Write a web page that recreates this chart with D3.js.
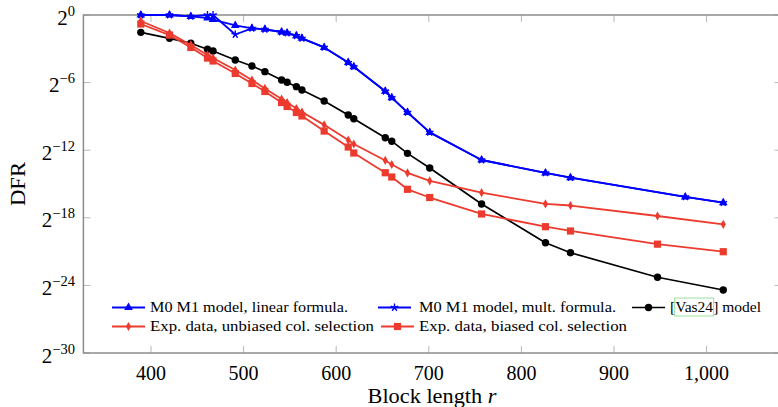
<!DOCTYPE html>
<html>
<head>
<meta charset="utf-8">
<script src="https://cdn.jsdelivr.net/npm/d3@7/dist/d3.min.js"></script>
<style>
  html, body { margin: 0; padding: 0; background: #fff; }
  svg { display: block; }
</style>
</head>
<body>
<svg id="chart" width="778" height="407" font-family="'Liberation Serif', 'DejaVu Serif', 'Times New Roman', serif"></svg>
<script>
// Block lengths r for each series
const rM0M1  = [389, 420, 443, 461, 467, 491, 509, 523, 541, 547, 557, 563, 587, 613, 619, 653, 660, 677, 701, 757, 826, 853, 977, 1018];
const rOther = [389, 420, 443, 461, 467, 491, 509, 523, 541, 547, 557, 563, 587, 613, 619, 653, 660, 677, 701, 757, 826, 853, 947, 1018];

// log2(DFR) values
const m0m1Linear = [0, 0, -0.13, -0.27, -0.4, -0.93, -1.18, -1.27, -1.51, -1.6, -1.84, -2.07, -2.88, -4.22, -4.59, -6.77, -7.34, -8.65, -10.42, -12.87, -14.02, -14.44, -16.15, -16.66];
const m0m1Mult   = [0, 0, -0.13, 0, 0, -1.73, -1.18, -1.27, -1.51, -1.6, -1.84, -2.07, -2.88, -4.22, -4.59, -6.77, -7.34, -8.65, -10.42, -12.87, -14.02, -14.44, -16.15, -16.66];
const vas24      = [-1.54, -2.07, -2.51, -3.04, -3.2, -3.99, -4.53, -5.03, -5.77, -5.97, -6.36, -6.66, -7.63, -8.88, -9.21, -10.9, -11.2, -12.28, -13.58, -16.78, -20.21, -21.1, -23.28, -24.41];
const expUnbiased = [-0.53, -1.6, -2.66, -3.55, -3.82, -4.88, -5.77, -6.52, -7.46, -7.77, -8.3, -8.61, -9.75, -11.1, -11.45, -12.91, -13.27, -14.02, -14.72, -15.77, -16.77, -16.91, -17.84, -18.58];
const expBiased   = [-0.8, -1.78, -2.88, -3.82, -4.08, -5.19, -6.08, -6.79, -7.77, -8.12, -8.65, -8.96, -10.3, -11.72, -12.25, -14.0, -14.38, -15.47, -16.2, -17.66, -18.79, -19.17, -20.34, -21.01];

// Axis ticks
const xTicks = [400, 500, 600, 700, 800, 900, 1000];
const yTickExps = [0, -6, -12, -18, -24, -30];

const seriesNames = [
  "M0 M1 model, linear formula.",
  "M0 M1 model, mult. formula.",
  "[Vas24] model",
  "Exp. data, unbiased col. selection",
  "Exp. data, biased col. selection"
];

const FONT = "'Liberation Serif', 'DejaVu Serif', 'Times New Roman', serif";
const svg = d3.select("#chart");
const x = d3.scaleLinear().domain([327, 1081]).range([83.4, 781.6]);
const y = d3.scaleLinear().domain([-30, 0]).range([353, 15]);

const BLUE = "#0000ff", RED = "#ec3b2e", BLACK = "#000000";

const series = [
  { name: seriesNames[0], r: rM0M1,  v: m0m1Linear,  color: BLUE,  mark: "triangle", w: 1.8 },
  { name: seriesNames[1], r: rM0M1,  v: m0m1Mult,    color: BLUE,  mark: "star",     w: 1.8 },
  { name: seriesNames[2], r: rOther, v: vas24,       color: BLACK, mark: "circle",   w: 1.7 },
  { name: seriesNames[3], r: rOther, v: expUnbiased, color: RED,   mark: "diamond",  w: 1.8 },
  { name: seriesNames[4], r: rOther, v: expBiased,   color: RED,   mark: "square",   w: 1.8 }
];

// Marker drawing
function drawMark(g, kind, cx, cy, color) {
  if (kind === "circle") {
    g.append("circle").attr("cx", cx).attr("cy", cy).attr("r", 3.7).attr("fill", color);
  } else if (kind === "square") {
    g.append("rect").attr("x", cx - 3.6).attr("y", cy - 3.6).attr("width", 7.2).attr("height", 7.2).attr("fill", color);
  } else if (kind === "triangle") {
    const r = 5;
    g.append("path")
      .attr("d", `M${cx},${cy - r}L${cx + r * 0.866},${cy + r * 0.5}L${cx - r * 0.866},${cy + r * 0.5}Z`)
      .attr("fill", color);
  } else if (kind === "diamond") {
    g.append("path")
      .attr("d", `M${cx},${cy - 4.6}L${cx + 2.6},${cy}L${cx},${cy + 4.6}L${cx - 2.6},${cy}Z`)
      .attr("fill", color);
  } else if (kind === "star") {
    let d = "";
    for (let k = 0; k < 5; k++) {
      const a = -Math.PI / 2 + k * 2 * Math.PI / 5;
      d += `M${cx},${cy}L${cx + 4 * Math.cos(a)},${cy + 4 * Math.sin(a)}`;
    }
    g.append("path").attr("d", d).attr("stroke", color).attr("stroke-width", 1.4).attr("fill", "none");
  }
}

// Frame ticks (inside, on all four sides)
const tickG = svg.append("g").attr("stroke", "#b8b8b8").attr("stroke-width", 1);
xTicks.forEach(t => {
  tickG.append("line").attr("x1", x(t)).attr("x2", x(t)).attr("y1", 353).attr("y2", 346);
  tickG.append("line").attr("x1", x(t)).attr("x2", x(t)).attr("y1", 15).attr("y2", 22);
});
yTickExps.forEach(e => {
  tickG.append("line").attr("x1", 83.4).attr("x2", 90.4).attr("y1", y(e)).attr("y2", y(e));
  tickG.append("line").attr("x1", 781.6).attr("x2", 774.6).attr("y1", y(e)).attr("y2", y(e));
});

// Frame
svg.append("rect")
  .attr("x", 83.4).attr("y", 15)
  .attr("width", 781.6 - 83.4).attr("height", 353 - 15)
  .attr("fill", "none").attr("stroke", "#8c8c8c").attr("stroke-width", 1.5);

// X tick labels
xTicks.forEach(t => {
  svg.append("text")
    .attr("x", x(t)).attr("y", 380)
    .attr("text-anchor", "middle")
    .attr("font-family", FONT)
    .attr("font-size", 20)
    .text(d3.format(",")(t));
});

// Y tick labels: powers of two
yTickExps.forEach(e => {
  const t = svg.append("text")
    .attr("x", 75).attr("y", y(e) + 9.5)
    .attr("text-anchor", "end")
    .attr("font-family", FONT)
    .attr("font-size", 21);
  t.append("tspan").text("2");
  t.append("tspan").attr("font-size", 14.5).attr("dy", -9).text(e === 0 ? "0" : "\u2212" + Math.abs(e));
});

// Axis titles
const xl = svg.append("text")
  .attr("x", 432).attr("y", 403)
  .attr("text-anchor", "middle")
  .attr("font-family", FONT)
  .attr("font-size", 20)
  .attr("textLength", 129)
  .attr("lengthAdjust", "spacingAndGlyphs");
xl.append("tspan").text("Block length ");
xl.append("tspan").attr("font-style", "italic").text("r");

svg.append("text")
  .attr("transform", "translate(25,184) rotate(-90)")
  .attr("text-anchor", "middle")
  .attr("font-family", FONT)
  .attr("font-size", 20)
  .attr("textLength", 44)
  .attr("lengthAdjust", "spacingAndGlyphs")
  .text("DFR");

// Series lines and markers
const line = d3.line().x(d => x(d[0])).y(d => y(d[1]));
series.forEach(s => {
  const pts = s.r.map((r, i) => [r, s.v[i]]);
  const g = svg.append("g");
  g.append("path")
    .attr("d", line(pts))
    .attr("fill", "none")
    .attr("stroke", s.color)
    .attr("stroke-width", s.w)
    .attr("stroke-linejoin", "round");
  pts.forEach(p => drawMark(g, s.mark, x(p[0]), y(p[1]), s.color));
});

// Legend
const legendItems = [
  { s: series[0], lx: 112, tx: 150, ty: 312, tw: 198 },
  { s: series[1], lx: 378, tx: 419, ty: 312, tw: 197 },
  { s: series[2], lx: 632, tx: 670, ty: 312, tw: 91 },
  { s: series[3], lx: 112, tx: 150, ty: 331, tw: 224 },
  { s: series[4], lx: 381, tx: 419, ty: 331, tw: 208 }
];
const lg = svg.append("g");
legendItems.forEach((it, i) => {
  const cy = it.ty - 4.5;
  lg.append("line")
    .attr("x1", it.lx).attr("x2", it.lx + 33)
    .attr("y1", cy).attr("y2", cy)
    .attr("stroke", it.s.color).attr("stroke-width", it.s.w);
  drawMark(lg, it.s.mark, it.lx + 16.5, cy, it.s.color);
  const t = lg.append("text")
    .attr("x", it.tx).attr("y", it.ty)
    .attr("font-family", FONT)
    .attr("font-size", 14.5)
    .attr("textLength", it.tw)
    .attr("lengthAdjust", "spacingAndGlyphs")
    .text(it.s.name);
  if (i === 2) {
    // citation link box around "Vas24"
    const a = t.node().getExtentOfChar(1);
    const b = t.node().getExtentOfChar(5);
    lg.append("rect")
      .attr("x", a.x - 0.5).attr("y", it.ty - 14)
      .attr("width", b.x + b.width - a.x + 1).attr("height", 18)
      .attr("fill", "none").attr("stroke", "#9be09b").attr("stroke-width", 1);
  }
});
</script>
</body>
</html>
